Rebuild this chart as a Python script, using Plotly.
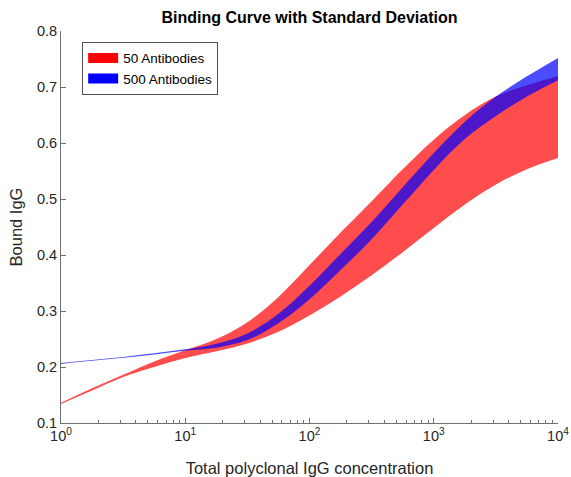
import plotly.graph_objects as go

# log10 of total polyclonal IgG concentration
log_conc = [0, 0.25, 0.5, 0.75, 1.0, 1.25, 1.5, 1.75, 2.0, 2.25, 2.5, 2.75, 3.0, 3.25, 3.5, 3.75, 4.0]
conc = [10 ** v for v in log_conc]

red_upper = [0.136, 0.162, 0.186, 0.210, 0.230, 0.250, 0.280, 0.325, 0.382, 0.440, 0.496, 0.553, 0.606, 0.650, 0.683, 0.703, 0.719]
red_lower = [0.134, 0.158, 0.182, 0.200, 0.216, 0.228, 0.242, 0.263, 0.292, 0.326, 0.364, 0.405, 0.448, 0.490, 0.526, 0.553, 0.573]

blue_upper = [0.207, 0.2125, 0.218, 0.2245, 0.2315, 0.2415, 0.260, 0.295, 0.345, 0.402, 0.459, 0.521, 0.582, 0.638, 0.683, 0.719, 0.752]
blue_lower = [0.2055, 0.211, 0.2165, 0.2225, 0.229, 0.2345, 0.248, 0.278, 0.321, 0.373, 0.428, 0.490, 0.552, 0.607, 0.648, 0.683, 0.712]

series_names = ["50 Antibodies", "500 Antibodies"]
x_tickvals = [1, 10, 100, 1000, 10000]
x_ticktext = ["10<sup>0</sup>", "10<sup>1</sup>", "10<sup>2</sup>", "10<sup>3</sup>", "10<sup>4</sup>"]
y_tickvals = [0.1, 0.2, 0.3, 0.4, 0.5, 0.6, 0.7, 0.8]

minor_vals = [m * 10 ** d for d in range(4) for m in range(2, 10)]

FONT = "Liberation Sans, Arial, Helvetica, sans-serif"
TXT = "#262626"
AX = "#707070"

fig = go.Figure()

bands = [
    (series_names[0], red_lower, red_upper, "rgba(255,0,0,0.7)", "rgb(255,0,0)"),
    (series_names[1], blue_lower, blue_upper, "rgba(0,0,255,0.7)", "rgb(0,0,255)"),
]
for name, lo, up, fillc, solid in bands:
    fig.add_trace(go.Scatter(x=conc, y=lo, mode="lines", line=dict(width=0, shape="spline", color=fillc),
                             showlegend=False, hoverinfo="skip"))
    fig.add_trace(go.Scatter(x=conc, y=up, mode="lines", fill="tonexty", fillcolor=fillc,
                             line=dict(width=0, shape="spline", color=fillc),
                             showlegend=False, name=name))
    # legend proxy
    fig.add_trace(go.Scatter(x=[None], y=[None], mode="lines", name=name,
                             line=dict(width=14, color=solid), showlegend=True))

fig.update_layout(
    width=571, height=477,
    margin=dict(l=61, r=13, t=31, b=54, autoexpand=False),
    paper_bgcolor="white", plot_bgcolor="white",
    font=dict(family=FONT, color=TXT, size=14),
    title=dict(text="<b>Binding Curve with Standard Deviation</b>", x=0.542, xanchor="center",
               y=0.964, yanchor="middle", font=dict(size=16, color="black")),
    showlegend=True,
    legend=dict(x=0.043, y=0.972, xanchor="left", yanchor="top",
                bgcolor="white", bordercolor="#262626", borderwidth=0.8,
                font=dict(size=13.5, color="black"), tracegroupgap=0,
                traceorder="normal", itemwidth=30),
    xaxis=dict(type="log", range=[0, 4], showgrid=False, zeroline=False, automargin=False,
               showline=True, linecolor=AX, linewidth=1, mirror=False,
               ticks="inside", ticklen=5, tickcolor=AX,
               tickmode="array", tickvals=x_tickvals, ticktext=x_ticktext,
               tickfont=dict(size=14.5, color=TXT),
               minor=dict(ticks="inside", ticklen=3, tickcolor=AX, tickvals=minor_vals, showgrid=False),
               title=dict(text="Total polyclonal IgG concentration", font=dict(size=16.5, color=TXT), standoff=19)),
    yaxis=dict(range=[0.1, 0.8], showgrid=False, zeroline=False, automargin=False,
               showline=True, linecolor=AX, linewidth=1, mirror=False,
               ticks="inside", ticklen=5, tickcolor=AX,
               tickmode="array", tickvals=y_tickvals, ticktext=[f"{v:.1f}" for v in y_tickvals],
               tickfont=dict(size=14.5, color=TXT),
               title=dict(text="Bound IgG", font=dict(size=16.5, color=TXT), standoff=10)),
)

fig.write_html("out.html")
